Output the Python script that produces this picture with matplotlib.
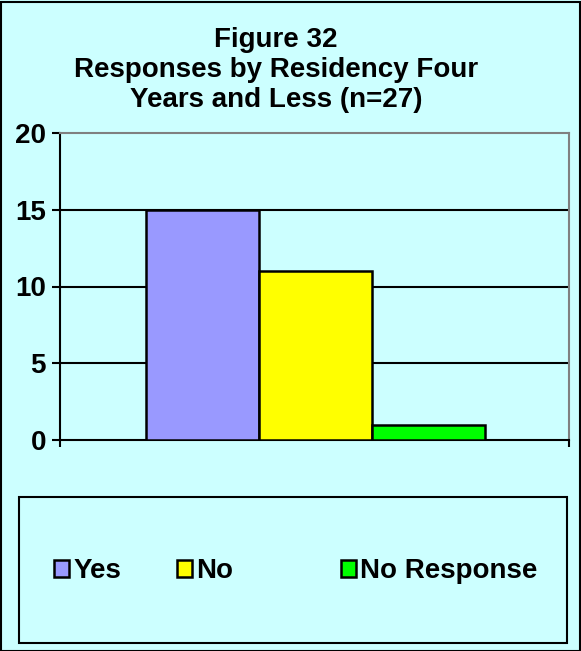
import matplotlib
matplotlib.use("Agg")
import matplotlib.pyplot as plt
from matplotlib.patches import Rectangle

categories = ["Yes", "No", "No Response"]
values = [15, 11, 1]
colors = ["#9999FF", "#FFFF00", "#00FF00"]
yticks = [0, 5, 10, 15, 20]
title = "Figure 32\nResponses by Residency Four\nYears and Less (n=27)"

plt.rcParams['font.family'] = ['Liberation Sans', 'DejaVu Sans']
plt.rcParams['font.weight'] = 'bold'

W, H = 581, 651
bg = "#CCFFFF"
fig = plt.figure(figsize=(W/100, H/100), dpi=100, facecolor=bg)

ax_l, ax_r, ax_t, ax_b = 60, 569, 133, 440
ax = fig.add_axes([ax_l/W, 1-ax_b/H, (ax_r-ax_l)/W, (ax_b-ax_t)/H])
ax.set_facecolor(bg)

xs = list(range(len(categories)))
bars = ax.bar(xs, values, width=1.0, color=colors, edgecolor="black", linewidth=1.8, zorder=3)

ax.set_xlim(-1.261, 3.243)
ax.set_ylim(0, 20)
ax.set_yticks(yticks)
ax.set_yticklabels([str(t) for t in yticks], fontsize=20, fontweight='bold')
for t in [5, 10, 15]:
    ax.axhline(t, color="black", linewidth=1.5, zorder=1)
ax.set_xticks([-1.261, 3.243])
ax.set_xticklabels(["", ""])
ax.tick_params(axis='x', direction='out', length=5, width=1.5)
ax.tick_params(axis='y', direction='out', length=6, width=1.5, pad=4)
ax.spines['left'].set_linewidth(1.5)
ax.spines['bottom'].set_linewidth(1.5)
ax.spines['top'].set_color("#808080")
ax.spines['right'].set_color("#808080")
ax.spines['top'].set_linewidth(1.5)
ax.spines['right'].set_linewidth(1.5)

fig.text(276/W, 1-70/H, title, ha='center', va='center', fontsize=20,
         fontweight='bold', linespacing=1.22)

# legend box
fig.patches.append(Rectangle((19/W, 1-643/H), (567-19)/W, (643-497)/H,
                             transform=fig.transFigure, facecolor=bg,
                             edgecolor="black", linewidth=1.5, zorder=0))
marker_x = [54, 177, 341]
for bar, lab, mx in zip(bars, categories, marker_x):
    leg = fig.legend([bar], [lab], loc='center left', bbox_to_anchor=(mx/W, 1-571/H),
                     frameon=False, fontsize=20, handlelength=0.55, handleheight=0.55,
                     handletextpad=0.15, borderpad=0, borderaxespad=0)
    for t in leg.get_texts():
        t.set_fontweight('bold')

# outer border
fig.patches.append(Rectangle((0.5/W, 0.5/H), (W-2)/W, (H-2)/H, transform=fig.transFigure,
                             facecolor='none', edgecolor='black', linewidth=1.5))

fig.savefig("out.png", dpi=100, facecolor=bg)
